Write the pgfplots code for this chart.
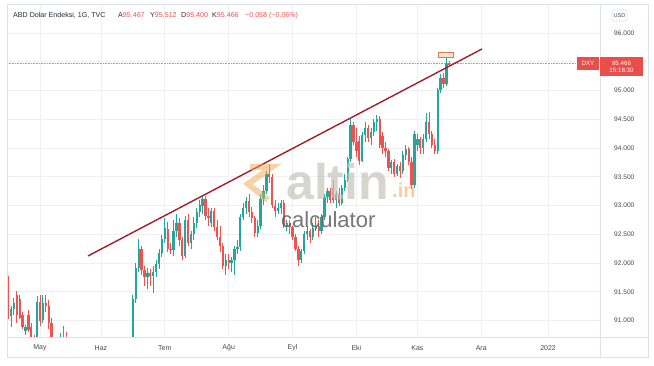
\documentclass[border=0pt]{standalone}
\usepackage{fontspec}
\setmainfont{Liberation Sans}
\usepackage{pgfplots}
\usepackage{pgfplotstable}
\pgfplotsset{compat=1.18}
\definecolor{upc}{RGB}{38,166,154}
\definecolor{dnc}{RGB}{239,83,80}
\definecolor{gridc}{RGB}{238,240,246}
\definecolor{framec}{RGB}{222,225,232}
\definecolor{txtc}{RGB}{70,72,78}
\definecolor{trendc}{RGB}{165,30,38}
\definecolor{hdrred}{RGB}{239,83,80}
\definecolor{lblred}{RGB}{235,77,75}
\definecolor{wmgray}{RGB}{200,195,186}
\definecolor{wmorange}{RGB}{240,165,80}

% up candles: index (trading day, 0 = 3 May 2021), open, high, low, close
\pgfplotstableread{
i o h l c
-10 91.08 91.26 90.88 91.20
-9 91.20 91.40 91.10 91.30
-5 90.82 90.92 90.75 90.88
-1 90.60 91.42 90.55 91.32
1 91.00 91.45 90.95 91.30
6 90.10 90.30 89.95 90.15
7 90.15 90.78 90.05 90.72
12 89.85 90.35 89.70 90.25
14 89.80 90.10 89.65 90.00
17 89.65 90.10 89.60 90.00
19 89.95 90.30 89.85 90.00
22 89.85 90.00 89.70 89.90
23 89.90 90.60 89.85 90.50
26 90.00 90.20 89.95 90.10
29 90.05 90.55 90.00 90.50
30 90.50 90.65 90.40 90.52
32 90.50 91.45 90.42 91.38
33 91.38 92.00 91.30 91.92
34 91.92 92.42 91.85 92.25
37 91.75 91.92 91.55 91.82
39 91.78 91.95 91.48 91.85
40 91.85 92.05 91.75 91.98
41 91.98 92.25 91.90 92.18
42 92.18 92.48 92.10 92.42
43 92.42 92.78 92.35 92.60
46 92.22 92.75 92.12 92.55
47 92.55 92.85 92.45 92.70
50 92.12 92.82 92.08 92.75
52 92.35 92.55 92.25 92.50
53 92.50 92.80 92.40 92.70
54 92.70 92.95 92.60 92.88
55 92.88 93.10 92.80 93.00
56 93.00 93.17 92.85 93.12
59 92.70 92.95 92.62 92.90
64 91.95 92.15 91.80 92.05
66 92.00 92.10 91.85 92.05
67 92.05 92.30 91.80 92.25
68 92.25 92.40 92.15 92.28
69 92.28 92.85 92.20 92.80
70 92.80 93.05 92.75 92.95
71 92.95 93.15 92.85 93.08
75 92.52 92.75 92.45 92.65
76 92.65 93.20 92.60 93.12
77 93.12 93.35 93.00 93.25
78 93.25 93.60 93.20 93.55
82 92.90 93.05 92.85 92.95
83 92.95 93.10 92.85 93.05
85 92.65 92.75 92.55 92.70
90 92.05 92.25 92.00 92.20
91 92.20 92.55 92.15 92.50
92 92.50 92.65 92.40 92.55
94 92.45 92.70 92.40 92.60
95 92.60 92.80 92.55 92.65
97 92.55 92.85 92.50 92.80
98 92.80 93.20 92.75 93.15
99 93.15 93.30 93.05 93.25
102 93.10 93.25 92.95 93.20
104 93.05 93.35 93.00 93.30
105 93.30 93.55 93.25 93.45
106 93.45 93.85 93.40 93.80
107 93.80 94.50 93.75 94.40
111 93.78 94.28 93.75 94.22
112 94.22 94.45 94.10 94.35
114 94.18 94.35 94.05 94.28
115 94.28 94.50 94.20 94.45
116 94.45 94.57 94.30 94.50
121 93.65 93.80 93.55 93.75
123 93.55 93.72 93.52 93.68
125 93.60 93.95 93.55 93.88
126 93.88 94.05 93.80 93.98
129 93.35 94.30 93.30 94.25
130 94.05 94.25 93.95 94.15
132 94.00 94.25 93.90 94.15
133 94.15 94.60 94.10 94.45
137 93.95 95.05 93.90 95.00
138 95.00 95.28 94.95 95.22
140 95.12 95.60 95.08 95.47
}\upT

% down candles
\pgfplotstableread{
i o h l c
-11 91.72 91.78 91.02 91.08
-8 91.45 91.52 90.95 91.10
-7 91.38 91.45 91.02 91.05
-6 91.10 91.15 90.85 90.88
-4 91.10 91.18 90.80 90.84
-3 90.88 90.95 90.60 90.65
-2 90.62 90.75 90.45 90.58
0 91.32 91.45 90.90 91.00
2 91.30 91.45 91.15 91.25
3 91.25 91.35 90.85 90.95
4 90.95 91.05 90.05 90.22
5 90.22 90.40 89.98 90.10
8 90.72 90.90 90.55 90.62
9 90.62 90.80 90.25 90.30
10 90.30 90.40 90.10 90.22
11 90.22 90.25 89.65 89.85
13 90.25 90.30 89.75 89.80
15 90.00 90.05 89.80 89.85
16 89.85 89.95 89.55 89.65
18 90.00 90.15 89.85 89.95
20 90.00 90.10 89.85 89.95
21 89.95 90.10 89.70 89.85
24 90.50 90.60 90.00 90.10
25 90.10 90.20 89.90 90.00
27 90.10 90.20 89.95 90.08
28 90.08 90.25 89.90 90.05
31 90.52 90.60 90.40 90.50
35 92.25 92.30 91.80 91.88
36 91.88 91.95 91.60 91.75
38 91.82 91.90 91.60 91.78
44 92.60 92.72 92.20 92.25
45 92.25 92.35 92.15 92.22
48 92.70 92.78 92.30 92.40
49 92.40 92.45 92.05 92.12
51 92.75 92.85 92.30 92.35
57 93.12 93.16 92.75 92.82
58 92.82 92.95 92.65 92.78
60 92.90 92.95 92.55 92.62
61 92.62 92.75 92.40 92.45
62 92.45 92.65 92.20 92.30
63 92.30 92.35 91.90 91.95
65 92.05 92.15 91.90 92.00
72 93.08 93.20 92.80 92.88
73 92.88 92.98 92.70 92.78
74 92.78 92.82 92.45 92.52
79 93.55 93.73 93.40 93.50
80 93.50 93.55 92.95 93.00
81 93.00 93.10 92.80 92.90
84 93.05 93.10 92.60 92.65
86 92.70 92.75 92.50 92.62
87 92.62 92.65 92.40 92.45
88 92.45 92.50 92.20 92.25
89 92.25 92.30 91.95 92.05
93 92.55 92.60 92.35 92.45
96 92.65 92.75 92.45 92.55
100 93.25 93.30 93.05 93.10
101 93.30 93.45 93.05 93.10
103 93.20 93.30 93.00 93.05
108 94.40 94.45 94.05 94.10
109 94.10 94.35 93.85 93.95
110 94.12 94.20 93.70 93.78
113 94.35 94.40 94.10 94.18
117 94.50 94.55 94.00 94.05
118 94.20 94.28 93.90 94.00
119 94.00 94.10 93.85 93.95
120 93.95 93.98 93.60 93.65
122 93.75 93.80 93.50 93.55
124 93.68 93.75 93.48 93.60
127 93.98 94.02 93.70 93.75
128 93.75 93.85 93.28 93.35
131 94.15 94.20 93.90 94.00
134 94.45 94.62 94.15 94.25
135 94.25 94.30 94.00 94.05
136 94.05 94.15 93.90 93.95
139 95.22 95.30 95.05 95.12
141 95.467 95.512 95.400 95.466
}\dnT

\begin{document}
\begin{tikzpicture}
\useasboundingbox (0,0) rectangle (654pt,366pt);
\fill[white] (0,0) rectangle (654pt,366pt);

\begin{axis}[
  at={(7pt,29pt)}, anchor=south west,
  scale only axis, width=593pt, height=333pt,
  xmin=-11.37, xmax=192.9, ymin=90.713, ymax=96.504,
  axis line style={draw=none},
  major tick length=0pt,
  xmajorgrids, ymajorgrids,
  major grid style={draw=gridc, line width=0.7pt},
  xtick={0,21,43,65,87,109,130,152,175},
  xticklabels={May,Haz,Tem,A\u{g}u,Eyl,Eki,Kas,Ara,2022},
  ytick={91,91.5,92,92.5,93,93.5,94,94.5,95,95.5,96},
  yticklabels={91.000,91.500,92.000,92.500,93.000,93.500,94.000,94.500,95.000,{},96.000},
  yticklabel pos=right,
  xticklabel style={font=\fontsize{7}{8}\selectfont, text=txtc, anchor=center, yshift=-11pt, inner sep=0pt},
  yticklabel style={font=\fontsize{6.6}{7}\selectfont, text=txtc, anchor=west, xshift=14pt, inner sep=0pt},
  clip=true,
  candle/.style 2 args={draw=none, mark=none, forget plot,
    error bars/.cd, y dir=both, y explicit, error mark=none,
    error bar style={draw=#1, line cap=butt, line width=#2}},
]
% wicks
\addplot[candle={upc}{0.9pt}]
  table[x=i, y expr={(\thisrow{h}+\thisrow{l})/2}, y error expr={(\thisrow{h}-\thisrow{l})/2}] {\upT};
\addplot[candle={dnc}{0.9pt}]
  table[x=i, y expr={(\thisrow{h}+\thisrow{l})/2}, y error expr={(\thisrow{h}-\thisrow{l})/2}] {\dnT};
% bodies
\addplot[candle={upc}{2.3pt}]
  table[x=i, y expr={(\thisrow{o}+\thisrow{c})/2}, y error expr={max(abs(\thisrow{c}-\thisrow{o})/2,0.009)}] {\upT};
\addplot[candle={dnc}{2.3pt}]
  table[x=i, y expr={(\thisrow{o}+\thisrow{c})/2}, y error expr={max(abs(\thisrow{c}-\thisrow{o})/2,0.009)}] {\dnT};
% last price line
\addplot[densely dotted, color=gray!75, line width=0.6pt] coordinates {(-11.37,95.466) (185.0,95.466)};
% trend line
\addplot[color=trendc, line width=1.4pt] coordinates {(16.53,92.122) (152.26,95.722)};
% small box annotation
\draw[draw={rgb,255:red,205;green,130;blue,80}, fill={rgb,255:red,252;green,226;blue,204}, line width=0.7pt]
  (axis cs:137.1,95.583) rectangle (axis cs:142.3,95.670);
\end{axis}

% frame
\draw[framec, line width=0.7pt] (7pt,9pt) rectangle (648pt,362pt);
\draw[framec, line width=0.7pt] (600pt,9pt) -- (600pt,362pt);
\draw[framec, line width=0.7pt] (7pt,29pt) -- (648pt,29pt);

% watermark
\begin{scope}[opacity=0.5]
\draw[wmorange, line width=6pt, line join=miter] (250pt,199pt) -- (272pt,199pt) -- (248pt,182pt) -- (268pt,166pt);
\end{scope}
\node[anchor=base west, inner sep=0pt, text=wmgray, opacity=0.7, font=\fontsize{50}{50}\selectfont\bfseries] at (286pt,166pt) {altin};
\node[anchor=base west, inner sep=0pt, text=wmorange, opacity=0.55, font=\fontsize{20}{20}\selectfont\bfseries] at (392pt,168pt) {.in};
\node[anchor=base west, inner sep=0pt, text={rgb,255:red,95;green,95;blue,95}, opacity=0.85, font=\fontsize{22}{22}\selectfont] at (281pt,138pt) {calculator};

% header
\begin{scope}[every node/.style={anchor=base west, inner sep=0pt, font=\fontsize{7.1}{8}\selectfont, text={rgb,255:red,40;green,42;blue,50}}]
\node at (13pt,348.5pt) {ABD Dolar Endeksi, 1G, TVC};
\node at (118pt,348.5pt) {A\textcolor{hdrred}{95.467}};
\node at (150pt,348.5pt) {Y\textcolor{hdrred}{95.512}};
\node at (181pt,348.5pt) {D\textcolor{hdrred}{95.400}};
\node at (212pt,348.5pt) {K\textcolor{hdrred}{95.466}};
\node at (245pt,348.5pt) {\textcolor{hdrred}{−0.058 (−0.06\%)}};
\end{scope}

% USD box
\draw[framec, line width=0.6pt, rounded corners=1pt] (612pt,345pt) rectangle (627pt,356pt);
\node[font=\fontsize{5.6}{6}\selectfont, text=txtc, inner sep=0pt] at (619.5pt,350.5pt) {USD};

% DXY and price labels
\fill[lblred] (577pt,296pt) rectangle (599pt,309pt);
\node[font=\fontsize{6.2}{7}\selectfont, text=white, inner sep=0pt] at (588pt,302.5pt) {DXY};
\fill[lblred] (600pt,290pt) rectangle (643pt,309pt);
\node[font=\fontsize{6.2}{7}\selectfont, text=white, inner sep=0pt] at (621.5pt,303pt) {95.466};
\node[font=\fontsize{6.2}{7}\selectfont, text=white, inner sep=0pt] at (621.5pt,295.5pt) {15:18:30};
\end{tikzpicture}
\end{document}
